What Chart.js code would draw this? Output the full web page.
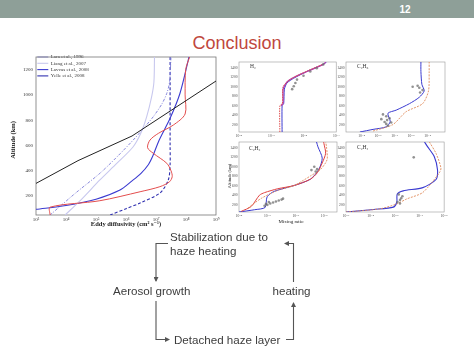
<!DOCTYPE html>
<html><head><meta charset="utf-8">
<script src="https://cdn.jsdelivr.net/npm/chart.js@4.4.1/dist/chart.umd.min.js"></script>
<style>
html,body{margin:0;padding:0;background:#fff;width:474px;height:355px;overflow:hidden;position:relative;font-family:"Liberation Sans",Arial,sans-serif;}
.abs{position:absolute;}
#band{left:0;top:0;width:474px;height:18px;background:#8e9f98;}
#num{left:390px;top:3px;width:30px;text-align:center;color:#fff;font-weight:bold;font-size:10px;line-height:14px;}
#title{left:0;top:32px;width:474px;text-align:center;color:#c0473d;font-size:18px;line-height:22px;}
.flow{color:#3c3c3c;font-size:11.6px;line-height:14px;white-space:nowrap;}
.ax{font-family:"Liberation Serif","DejaVu Serif",serif;color:#222;white-space:nowrap;text-align:center;}
.pl{font-family:"Liberation Serif","DejaVu Serif",serif;color:#333;white-space:nowrap;font-size:5.5px;line-height:6px;}
canvas{position:absolute;}
</style></head><body>
<div id="band" class="abs"></div>
<div id="num" class="abs">12</div>
<div id="title" class="abs">Conclusion</div>

<canvas id="main" width="224" height="180" style="left:0px;top:50px"></canvas>
<canvas id="h2" width="114" height="82" style="left:227px;top:58px"></canvas>
<canvas id="c2h6" width="115" height="82" style="left:334px;top:58px"></canvas>
<canvas id="c2h2" width="114" height="82" style="left:227px;top:138px"></canvas>
<canvas id="c2h4" width="115" height="82" style="left:334px;top:138px"></canvas>

<div class="abs ax" style="left:-22px;top:136px;width:70px;font-size:6.5px;line-height:8px;font-weight:bold;transform:rotate(-90deg);">Altitude (km)</div>
<div class="abs ax" style="left:56px;top:220px;width:140px;font-size:6.5px;line-height:8px;font-weight:bold;">Eddy diffusivity (cm² s⁻¹)</div>
<div class="abs ax" style="left:206px;top:173px;width:48px;font-size:4.5px;line-height:6px;transform:rotate(-90deg);">Altitude (km)</div>
<div class="abs ax" style="left:261px;top:219px;width:60px;font-size:5px;line-height:6px;">Mixing ratio</div>

<div class="abs pl" style="left:250px;top:63px;">H₂</div>
<div class="abs pl" style="left:357px;top:63px;">C₂H₆</div>
<div class="abs pl" style="left:249px;top:145px;">C₂H₂</div>
<div class="abs pl" style="left:357px;top:144px;">C₂H₄</div>

<div class="abs flow" style="left:170px;top:229.7px;">Stabilization due to</div>
<div class="abs flow" style="left:170px;top:243.7px;">haze heating</div>
<div class="abs flow" style="left:113px;top:284px;">Aerosol growth</div>
<div class="abs flow" style="left:272.5px;top:284px;">heating</div>
<div class="abs flow" style="left:174px;top:333.3px;">Detached haze layer</div>

<svg class="abs" style="left:0;top:0" width="474" height="355">
 <defs><marker id="ah" markerWidth="5" markerHeight="5" refX="4" refY="2.5" orient="auto" markerUnits="userSpaceOnUse"><path d="M0,0 L5,2.5 L0,5 z" fill="#555"/></marker></defs>
 <g fill="none" stroke="#555" stroke-width="1.1">
  <path d="M168,243.5 H156 V281" marker-end="url(#ah)"/>
  <path d="M156,301 V339.5 H169" marker-end="url(#ah)"/>
  <path d="M286,339.5 H293.5 V303" marker-end="url(#ah)"/>
  <path d="M293.5,282 V243.5 H285" marker-end="url(#ah)"/>
 </g>
</svg>

<script>
// ---------------- DATA (log10 of x values, altitudes in km) ----------------
// Eddy diffusivity chart
const eddyTickExp = [3, 4, 5, 6, 7, 8, 9];
const altTicks = [200, 400, 600, 800, 1000, 1200];
const blackAlt  = [300, 480, 675, 1110];
const blackLogK = [3.0, 4.4, 6.2, 9.0];
const redAlt  = [50, 112, 163, 234, 274, 313, 353, 400, 459, 538, 582, 643, 696, 762, 849, 1000, 1200, 1300];
const redLogK = [3.47, 3.47, 5.13, 6.47, 7.13, 7.45, 7.54, 7.5, 7.36, 6.91, 6.72, 6.8, 7.08, 7.58, 7.97, 7.97, 7.99, 8.12];
const laraAlt  = [50, 220, 380, 510, 643, 740, 828, 930, 1013, 1100, 1300];
const laraLogK = [3.47, 4.3, 5.13, 5.7, 6.24, 6.6, 6.91, 7.2, 7.36, 7.45, 7.5];
const liangAlt  = [50, 170, 327, 460, 590, 700, 828, 980, 1100, 1300];
const liangLogK = [3.97, 4.5, 5.13, 5.7, 6.24, 6.5, 6.69, 6.85, 6.93, 6.95];
const lavvasAlt  = [95, 125, 175, 248, 320, 380, 450, 520, 640, 815, 1013, 1300];
const lavvasLogK = [3.0, 4.0, 5.0, 5.8, 6.2, 6.5, 6.75, 6.9, 7.1, 7.47, 7.8, 8.1];
const yelleAlt  = [50, 100, 145, 224, 327, 450, 600, 1300];
const yelleLogK = [5.47, 6.0, 6.47, 7.13, 7.41, 7.47, 7.47, 7.47];

// Mixing-ratio panels
const panelAltTicks = [200, 400, 600, 800, 1000, 1200, 1400];
const h2TickExp = [-4, -3, -2, -1];
const h2BlueAlt = [50, 600, 650, 950, 1080, 1180, 1320, 1470, 1520];
const h2BlueLog = [-2.67, -2.67, -2.62, -2.6, -2.52, -2.31, -1.91, -1.4, -1.3];
const h2RedAlt = [50, 600, 650, 1000, 1110, 1200, 1320, 1470];
const h2RedLog = [-2.74, -2.74, -2.66, -2.64, -2.5, -2.3, -1.93, -1.42];
const h2MagAlt = [600, 650, 950, 1100, 1200, 1320, 1470, 1520];
const h2MagLog = [-2.7, -2.64, -2.64, -2.52, -2.3, -1.9, -1.4, -1.32];
const h2ObsAlt = [950, 1010, 1080, 1150, 1230, 1320, 1390, 1470];
const h2ObsLog = [-2.36, -2.31, -2.26, -2.21, -2.01, -1.8, -1.6, -1.4];

const c2h6TickExp = [-8, -7, -6, -5, -4];
const c2h6BlueAlt = [50, 105, 159, 273, 442, 509, 644, 779, 913, 1048, 1318, 1520];
const c2h6BlueLog = [-8.1, -7.3, -6.5, -6.26, -6.4, -5.9, -5.1, -4.5, -4.2, -4.34, -4.4, -4.4];
const c2h6OrAlt = [71, 206, 476, 644, 913, 1318, 1520];
const c2h6OrLog = [-7.3, -6.1, -5.3, -4.3, -3.94, -3.9, -3.9];
const c2h6ObsAlt = [180, 220, 260, 300, 340, 380, 420, 250, 320, 880, 930, 980, 1020, 1000];
const c2h6ObsLog = [-6.4, -6.5, -6.6, -6.45, -6.3, -6.5, -6.7, -6.2, -6.8, -4.45, -4.3, -4.5, -4.6, -4.9];

const c2h2TickExp = [-8, -7, -6, -5];
const c2h2RedAlt = [64, 166, 403, 457, 538, 606, 741, 877, 1080, 1283, 1486, 1520];
const c2h2RedLog = [-7.92, -7.57, -7.28, -7.1, -6.64, -6.06, -5.48, -5.24, -5.07, -4.95, -5.01, -5.02];
const c2h2BlueAlt = [50, 98, 146, 369, 484, 606, 741, 945, 1181, 1418, 1520];
const c2h2BlueLog = [-8.0, -7.45, -7.08, -7.01, -6.76, -6.06, -5.48, -5.19, -5.07, -5.22, -5.27];
const c2h2OrAlt = [132, 335, 504, 606, 809, 945, 1148, 1418, 1520];
const c2h2OrLog = [-7.69, -7.22, -6.64, -6.06, -5.48, -5.13, -4.9, -4.92, -4.95];
const c2h2ObsAlt = [180, 200, 230, 250, 270, 290, 310, 330, 220, 260, 900, 950, 1000, 930];
const c2h2ObsLog = [-7.1, -7.0, -6.9, -6.8, -6.7, -6.6, -6.5, -6.45, -7.05, -6.95, -5.3, -5.25, -5.35, -5.45];

const c2h4TickExp = [-9, -8, -7, -6, -5];
const c2h4BlueAlt = [50, 104, 152, 255, 426, 494, 562, 733, 939, 1212, 1417, 1520];
const c2h4BlueLog = [-9.0, -7.87, -7.07, -6.93, -6.91, -6.67, -5.87, -5.33, -5.27, -5.4, -5.67, -5.8];
const c2h4OrAlt = [50, 118, 220, 323, 460, 870, 973, 1280, 1520];
const c2h4OrLog = [-9.0, -7.6, -6.93, -6.53, -5.87, -5.2, -5.13, -5.33, -5.6];
const c2h4ObsAlt = [260, 300, 340, 380, 420, 230, 1198];
const c2h4ObsLog = [-6.9, -6.8, -6.75, -6.7, -6.85, -6.8, -6.24];

// ---------------- helpers ----------------
const SERIF = '"Liberation Serif", "DejaVu Serif", serif';
const SUP = {'-':'⁻','0':'⁰','1':'¹','2':'²','3':'³','4':'⁴','5':'⁵','6':'⁶','7':'⁷','8':'⁸','9':'⁹'};
const pow10Label = v => '10' + String(Math.round(Math.log10(v))).split('').map(c => SUP[c]).join('');
const plainLabel = v => String(v);
const toPts = (logs, alts) => logs.map((e, i) => ({x: Math.pow(10, e), y: alts[i]}));

Chart.register({
  id: 'frame',
  beforeDatasetsDraw(chart, args, o) {
    const {left, top, right, bottom} = chart.chartArea;
    const c = chart.ctx;
    c.save(); c.strokeStyle = o.color || '#666'; c.lineWidth = o.width || 0.8;
    c.strokeRect(left, top, right - left, bottom - top); c.restore();
  }
});

function lineDs(label, logs, alts, color, width, dash, tension) {
  return {label, data: toPts(logs, alts), borderColor: color, backgroundColor: color,
    borderWidth: width, borderDash: dash || [], pointRadius: 0, tension: tension, fill: false};
}
function obsDs(logs, alts) {
  return {label: '', data: toPts(logs, alts), showLine: false, pointRadius: 1.3,
    pointBorderWidth: 0, pointBackgroundColor: 'rgba(110,110,110,0.75)', borderColor: 'rgba(110,110,110,0.75)'};
}

// ---------------- main chart ----------------
new Chart(document.getElementById('main'), {
  type: 'line',
  data: {datasets: [
    lineDs('', blackLogK, blackAlt, '#222', 1, [], 0),
    lineDs('', redLogK, redAlt, '#e34d4d', 1, [], 0.3),
    lineDs('Lara et al., 1996', laraLogK, laraAlt, '#7c7cd8', 0.9, [3, 1.5, 1, 1.5], 0.3),
    lineDs('Liang et al., 2007', liangLogK, liangAlt, '#c8c8ee', 1.1, [], 0.3),
    lineDs('Lavvas et al., 2008', lavvasLogK, lavvasAlt, '#3a3ad0', 1.1, [], 0.3),
    lineDs('Yelle et al., 2008', yelleLogK, yelleAlt, '#3030b0', 1.1, [3, 2], 0.3)
  ]},
  options: {
    responsive: false, animation: false,
    layout: {padding: {top: 7, right: 8, left: 0, bottom: 0}},
    scales: {
      x: {type: 'logarithmic', min: 1e3, max: 1e9,
        afterFit: s => { s.height = 15; },
        afterBuildTicks: s => { s.ticks = eddyTickExp.map(e => ({value: Math.pow(10, e)})); },
        ticks: {callback: v => pow10Label(v), font: {size: 5, family: SERIF}, color: '#333', padding: 2, maxRotation: 0, autoSkip: false},
        grid: {display: false, drawTicks: false, tickLength: 0}, border: {display: false}},
      y: {type: 'linear', min: 50, max: 1300,
        afterFit: s => { s.width = 36; },
        afterBuildTicks: s => { s.ticks = altTicks.map(v => ({value: v})); },
        ticks: {callback: plainLabel, font: {size: 5, family: SERIF}, color: '#333', padding: 3},
        grid: {display: false, drawTicks: false, tickLength: 0}, border: {display: false}}
    },
    plugins: {
      frame: {color: '#777', width: 0.8},
      tooltip: {enabled: false},
      legend: {position: 'chartArea', align: 'start',
        title: {display: true, text: '', padding: {top: 2, bottom: 0}, font: {size: 1}},
        labels: {filter: it => it.text !== '', usePointStyle: true, pointStyle: 'line', pointStyleWidth: 11,
          boxHeight: 5, font: {size: 5, family: SERIF}, color: '#333', padding: 1.3}}
    }
  }
});

// ---------------- small panels ----------------
function panel(id, xMinExp, xMaxExp, tickExp, datasets) {
  new Chart(document.getElementById(id), {
    type: 'line',
    data: {datasets},
    options: {
      responsive: false, animation: false,
      layout: {padding: {top: 2, right: 3, left: 0, bottom: 0}},
      scales: {
        x: {type: 'logarithmic', min: Math.pow(10, xMinExp), max: Math.pow(10, xMaxExp),
          afterFit: s => { s.height = 8; },
          afterBuildTicks: s => { s.ticks = tickExp.map(e => ({value: Math.pow(10, e)})); },
          ticks: {callback: v => pow10Label(v), font: {size: 3.6, family: SERIF}, color: '#444', padding: 1.5, maxRotation: 0, autoSkip: false},
          grid: {display: false, drawTicks: false, tickLength: 0}, border: {display: false}},
        y: {type: 'linear', min: 50, max: 1520,
          afterFit: s => { s.width = 12; },
          afterBuildTicks: s => { s.ticks = panelAltTicks.map(v => ({value: v})); },
          ticks: {callback: plainLabel, font: {size: 3.6, family: SERIF}, color: '#444', padding: 1.5},
          grid: {display: false, drawTicks: false, tickLength: 0}, border: {display: false}}
      },
      plugins: {frame: {color: '#999', width: 0.6}, legend: {display: false}, tooltip: {enabled: false}}
    }
  });
}

panel('h2', -4, -1, h2TickExp, [
  obsDs(h2ObsLog, h2ObsAlt),
  lineDs('', h2RedLog, h2RedAlt, '#e05050', 1, [1.5, 1], 0.2),
  lineDs('', h2MagLog, h2MagAlt, '#b040b0', 1.3, [], 0.2),
  lineDs('', h2BlueLog, h2BlueAlt, '#3a3ad0', 1, [], 0.2)
]);
panel('c2h6', -8.94, -2.94, c2h6TickExp, [
  obsDs(c2h6ObsLog, c2h6ObsAlt),
  lineDs('', c2h6OrLog, c2h6OrAlt, '#e08a5a', 0.9, [2, 1.2], 0.25),
  lineDs('', c2h6BlueLog, c2h6BlueAlt, '#3a3ad0', 1, [], 0.25)
]);
panel('c2h2', -8, -4.55, c2h2TickExp, [
  obsDs(c2h2ObsLog, c2h2ObsAlt),
  lineDs('', c2h2OrLog, c2h2OrAlt, '#e08a5a', 0.9, [2, 1.2], 0.25),
  lineDs('', c2h2RedLog, c2h2RedAlt, '#e04040', 1, [], 0.25),
  lineDs('', c2h2BlueLog, c2h2BlueAlt, '#3a3ad0', 1, [], 0.25)
]);
panel('c2h4', -9, -5, c2h4TickExp, [
  obsDs(c2h4ObsLog, c2h4ObsAlt),
  lineDs('', c2h4OrLog, c2h4OrAlt, '#e08a5a', 0.9, [2, 1.2], 0.25),
  lineDs('', c2h4BlueLog, c2h4BlueAlt, '#3a3ad0', 1.1, [], 0.25)
]);
</script>
</body></html>
